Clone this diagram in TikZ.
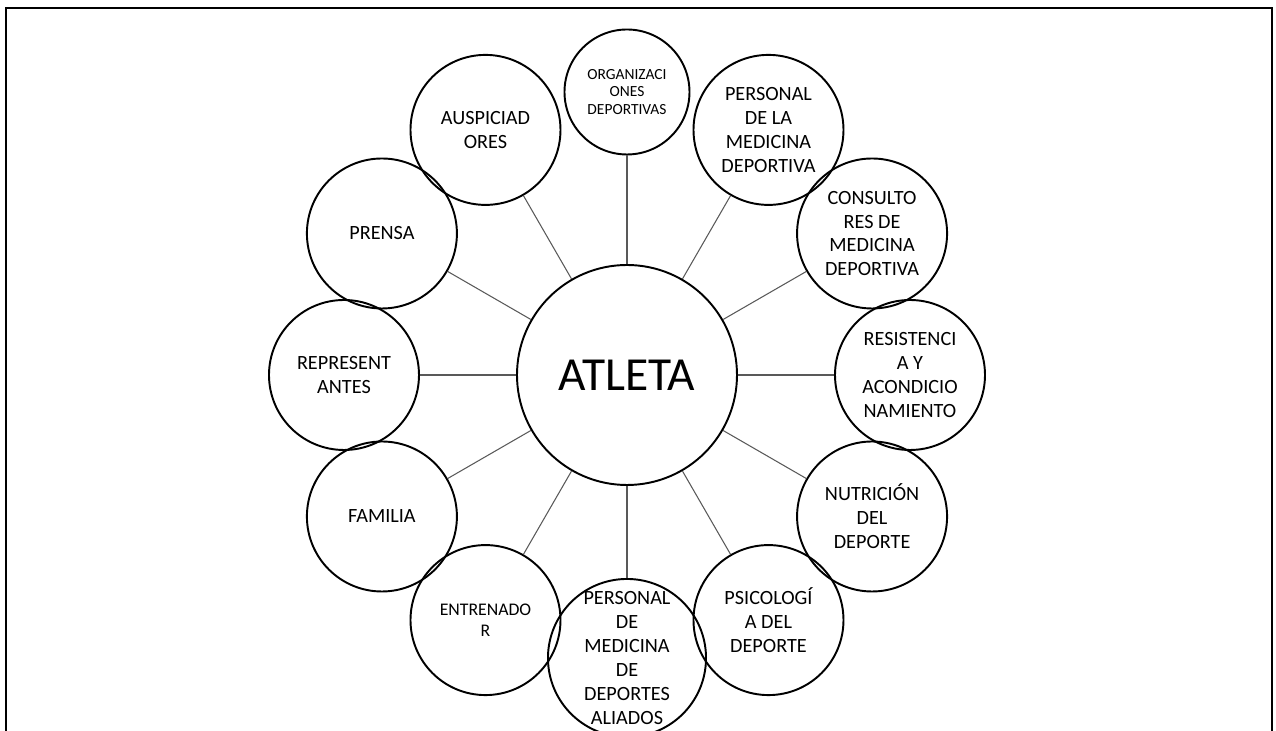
\documentclass[tikz,border=0pt]{standalone}
\usepackage{fontspec}
\setmainfont{Carlito}
\usetikzlibrary{positioning}

\begin{document}
\begin{tikzpicture}
                    [actor/.style={circle,
                        draw, line width=1.1pt,
                        minimum size=3cm, inner sep=0pt,
                        align=center,
                        font=\fontsize{11.5}{13.6}\selectfont},
                    hub/.style={circle,
                        draw, line width=1.1pt,
                        minimum size=4.4cm,
                        font=\fontsize{27}{32}\selectfont},
                    spoke/.style={draw=black!65, line width=0.6pt}]

                    \useasboundingbox (-12.54,-7.12) rectangle (12.98,7.5);
                    \draw[line width=1.6pt]
                        (-12.42,-7.6) -- (-12.42,7.34) -- (12.9,7.34) -- (12.9,-7.6);

                    \node[hub] (atleta) at (0,0)
                        {ATLETA};

                    \node[actor, minimum size=2.5cm,
                        font=\fontsize{8.8}{10}\selectfont]
                        (org) at (90:5.66) {ORGANIZACI\\ONES\\DEPORTIVAS};
                    \node[actor] (medic) at (60:5.66)
                        {PERSONAL\\DE LA\\MEDICINA\\DEPORTIVA};
                    \node[actor] (consul) at (30:5.66)
                        {CONSULTO\\RES DE\\MEDICINA\\DEPORTIVA};
                    \node[actor] (resist) at (0:5.66)
                        {RESISTENCI\\A Y\\ACONDICIO\\NAMIENTO};
                    \node[actor] (nutri) at (-30:5.66)
                        {NUTRICIÓN\\DEL\\DEPORTE};
                    \node[actor] (psico) at (-60:5.66)
                        {PSICOLOGÍ\\A DEL\\DEPORTE};
                    \node[actor] (aliados) at (-90:5.66)
                        {PERSONAL\\DE\\MEDICINA\\DE\\DEPORTES\\ALIADOS};
                    \node[actor,
                        font=\fontsize{10.1}{12.3}\selectfont]
                        (entre) at (-120:5.66) {ENTRENADO\\R};
                    \node[actor] (familia) at (-150:5.66)
                        {FAMILIA};
                    \node[actor] (repre) at (180:5.66)
                        {REPRESENT\\ANTES};
                    \node[actor] (prensa) at (150:5.66)
                        {PRENSA};
                    \node[actor] (ausp) at (120:5.66)
                        {AUSPICIAD\\ORES};

                    \path[spoke]
                        (atleta) edge (org)
                        (atleta) edge (medic)
                        (atleta) edge (consul)
                        (atleta) edge (resist)
                        (atleta) edge (nutri)
                        (atleta) edge (psico)
                        (atleta) edge (aliados)
                        (atleta) edge (entre)
                        (atleta) edge (familia)
                        (atleta) edge (repre)
                        (atleta) edge (prensa)
                        (atleta) edge (ausp);
                \end{tikzpicture}
\end{document}
